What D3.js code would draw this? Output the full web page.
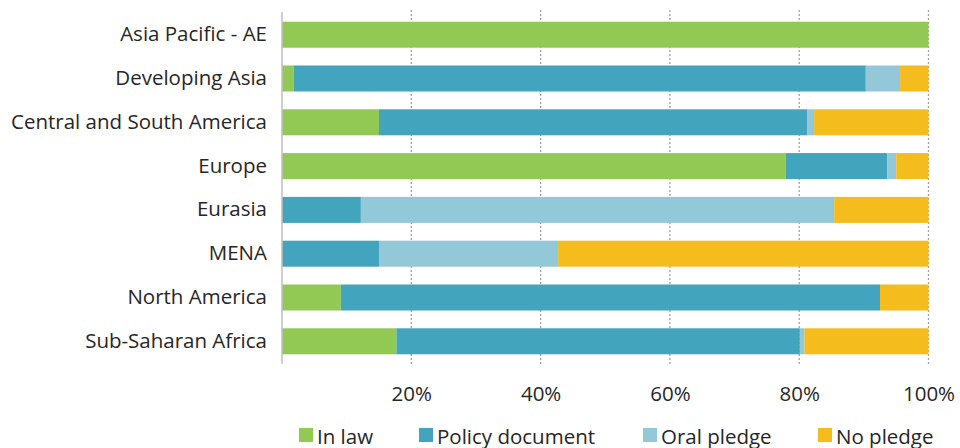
<!DOCTYPE html>
<html>
<head>
<meta charset="utf-8">
<script src="https://cdn.jsdelivr.net/npm/d3@7"></script>
<style>
  body { margin: 0; background: #fff; }
  svg { display: block; font-family: "Open Sans", sans-serif; }
</style>
</head>
<body>
<svg id="chart" width="960" height="448"></svg>
<script>
const categories = ["Asia Pacific - AE", "Developing Asia", "Central and South America", "Europe", "Eurasia", "MENA", "North America", "Sub-Saharan Africa"];
const seriesNames = ["In law", "Policy document", "Oral pledge", "No pledge"];
const inLaw      = [100, 1.8, 15.0, 77.9, 0, 0, 9.1, 17.7];
const policyDoc  = [0, 88.5, 66.2, 15.7, 12.2, 15.0, 83.4, 62.4];
const oralPledge = [0, 5.3, 1.1, 1.4, 73.2, 27.7, 0, 0.7];
const noPledge   = [0, 4.4, 17.7, 5.0, 14.6, 57.3, 7.5, 19.2];
const tickValues = [20, 40, 60, 80, 100];
const colors = ["#92c955", "#42a4bd", "#92c8d7", "#f5bc1e"];

const rows = categories.map((c, i) => ({
  cat: c, "In law": inLaw[i], "Policy document": policyDoc[i],
  "Oral pledge": oralPledge[i], "No pledge": noPledge[i]
}));

const FONT = "'Open Sans', sans-serif";
const FS = 20.5;
const svg = d3.select("#chart");
const x = d3.scaleLinear().domain([0, 100]).range([282, 928.5]);
const y = d3.scaleBand().domain(categories).range([12.8, 363.2]).paddingInner(0.406).paddingOuter(0.203);
const color = d3.scaleOrdinal().domain(seriesNames).range(colors);

// gridlines
svg.append("g").selectAll("line").data(tickValues).join("line")
  .attr("x1", d => x(d)).attr("x2", d => x(d))
  .attr("y1", 10).attr("y2", 364)
  .attr("stroke", "#a0a0a0").attr("stroke-width", 1.3)
  .attr("stroke-dasharray", "2,2");

const stack = d3.stack().keys(seriesNames)(rows);
svg.append("g").selectAll("g").data(stack).join("g")
  .attr("fill", d => color(d.key))
  .selectAll("rect").data(d => d).join("rect")
  .attr("x", d => x(d[0]))
  .attr("width", d => Math.max(0, x(d[1]) - x(d[0])))
  .attr("y", d => y(d.data.cat))
  .attr("height", y.bandwidth());

// y axis line
svg.append("line").attr("x1", 282).attr("x2", 282).attr("y1", 12).attr("y2", 364)
  .attr("stroke", "#bfbfbf").attr("stroke-width", 1.5);

// category labels
const yAxis = d3.axisLeft(y).tickSize(0).tickPadding(15);
const gy = svg.append("g").attr("transform", "translate(282,0)").call(yAxis);
gy.select(".domain").remove();
gy.selectAll("text").attr("font-size", FS).attr("fill", "#262626").style("font-family", FONT);

// x tick labels
const xAxis = d3.axisBottom(x).tickValues(tickValues).tickSize(0).tickPadding(0).tickFormat(d => d + "%");
const gx = svg.append("g").attr("transform", "translate(0,386.5)").call(xAxis);
gx.select(".domain").remove();
gx.selectAll("text").attr("font-size", FS).attr("fill", "#262626").style("font-family", FONT);

// legend
const legendX = [299, 419, 643, 818];
const lg = svg.append("g").selectAll("g").data(seriesNames).join("g")
  .attr("transform", (d, i) => `translate(${legendX[i]},428)`);
lg.append("rect").attr("width", 14).attr("height", 14).attr("fill", d => color(d));
lg.append("text").attr("x", 18).attr("y", 15.5).attr("font-size", FS).attr("fill", "#262626")
  .style("font-family", FONT).text(d => d);
</script>
</body>
</html>
